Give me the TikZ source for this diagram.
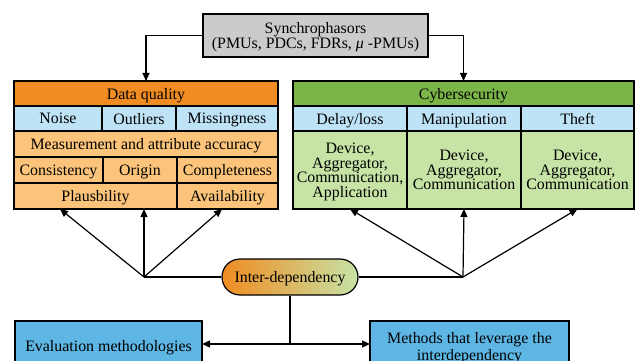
\documentclass[tikz,border=0pt]{standalone}
\usepackage{fontspec}
\setmainfont{Liberation Serif}
\usepackage{xcolor}
\usepackage{tikz}
\usetikzlibrary{arrows.meta}
\usetikzlibrary{calc}
\usetikzlibrary{shapes.misc}
\definecolor{dqhead}{HTML}{F08C22}
\definecolor{dqcell}{HTML}{FBC47A}
\definecolor{subcell}{HTML}{BEE3F6}
\definecolor{cshead}{HTML}{7BB548}
\definecolor{cscell}{HTML}{C7E3A5}
\definecolor{srcgray}{HTML}{CBCBCB}
\definecolor{outblue}{HTML}{5DB6E4}
\newcommand\txt{\fontsize{15.9}{14.5}\selectfont}
\tikzstyle{cell}=[draw,line width=1.2pt,anchor=north west,inner sep=0pt,outer sep=0pt,font=\txt,align=center,text depth=0pt]
\tikzstyle{arrhead}=[>/.tip={Triangle[length=8pt,width=7pt]}]
\tikzstyle{ar}=[line width=1.2pt,arrhead,->]
\tikzstyle{ln}=[line width=1.2pt]

\begin{document}
\begin{tikzpicture}[x=1pt,y=-1pt]
	\clip (0,0) rectangle (638,361);
	\node[cell,fill=srcgray,minimum width=225pt,minimum height=43pt,font=\fontsize{15.9}{15.5}\selectfont] (syn) at (203,14) {Synchrophasors\\(PMUs, PDCs, FDRs, \textit{μ} -PMUs)};
	\node[cell,fill=dqhead,minimum width=264pt,minimum height=25pt] (dq) at (14,81) {Data quality};
	\node[cell,fill=subcell,minimum width=88pt,minimum height=25pt] (noi) at (14,106) {Noise};
	\node[cell,fill=subcell,minimum width=74pt,minimum height=25pt] (outl) at (102,106) {Outliers};
	\node[cell,fill=subcell,minimum width=102pt,minimum height=25pt] (miss) at (176,106) {Missingness};
	\node[cell,fill=dqcell,minimum width=264pt,minimum height=26pt] (meas) at (14,131) {Measurement and attribute accuracy};
	\node[cell,fill=dqcell,minimum width=89pt,minimum height=26pt] (cons) at (14,157) {Consistency};
	\node[cell,fill=dqcell,minimum width=74pt,minimum height=26pt] (orig) at (103,157) {Origin};
	\node[cell,fill=dqcell,minimum width=101pt,minimum height=26pt] (compl) at (177,157) {Completeness};
	\node[cell,fill=dqcell,minimum width=163pt,minimum height=26pt] (plaus) at (14,183) {Plausbility};
	\node[cell,fill=dqcell,minimum width=101pt,minimum height=26pt] (avail) at (177,183) {Availability};
	\node[cell,fill=cshead,minimum width=341pt,minimum height=25pt] (cs) at (293,81) {Cybersecurity};
	\node[cell,fill=subcell,minimum width=114pt,minimum height=25pt] (delay) at (293,106) {Delay/loss};
	\node[cell,fill=subcell,minimum width=114pt,minimum height=25pt] (manip) at (407,106) {Manipulation};
	\node[cell,fill=subcell,minimum width=113pt,minimum height=25pt] (theft) at (521,106) {Theft};
	\node[cell,fill=cscell,minimum width=114pt,minimum height=78pt] (delayd) at (293,131) {Device,\\Aggregator,\\Communication,\\Application};
	\node[cell,fill=cscell,minimum width=114pt,minimum height=78pt] (manipd) at (407,131) {Device,\\Aggregator,\\Communication};
	\node[cell,fill=cscell,minimum width=113pt,minimum height=78pt] (theftd) at (521,131) {Device,\\Aggregator,\\Communication};
	\node[draw,line width=1.2pt,rounded rectangle,minimum width=136pt,minimum height=36pt,inner sep=0pt,text depth=0pt,left color=dqhead,right color=cscell,font=\txt] (idep) at (290,277) {Inter-dependency};
	\node[cell,fill=outblue,minimum width=187pt,minimum height=50pt] (eval) at (15,321) {Evaluation methodologies};
	\node[cell,fill=outblue,minimum width=199pt,minimum height=50pt,font=\fontsize{15.9}{17}\selectfont] (lev) at (370,321) {Methods that leverage the\\interdependency};
	\coordinate (lf) at (144,277);
	\coordinate (rf) at (463,277);
	\coordinate (bf) at (290,344);
	\coordinate (dqa) at (60,209);
	\coordinate (dqb) at (144,209);
	\coordinate (dqc) at (222,209);
	\draw[ar] (syn.west) -| (dq.north);
	\draw[ar] (syn.east) -| (cs.north);
	\draw[ln] (idep.west) -- (lf);
	\draw[ln] (idep.east) -- (rf);
	\draw[ar] (lf) -- (dqa);
	\draw[ar] (lf) -- (dqb);
	\draw[ar] (lf) -- (dqc);
	\draw[ar] (rf) -- (delayd.south);
	\draw[ar] (rf) -- (manipd.south);
	\draw[ar] (rf) -- (theftd.south);
	\draw[ln] (idep.south) -- (bf);
	\draw[ar] (bf) -- (eval.east |- bf);
	\draw[ar] (bf) -- (lev.west |- bf);
\end{tikzpicture}
\end{document}
